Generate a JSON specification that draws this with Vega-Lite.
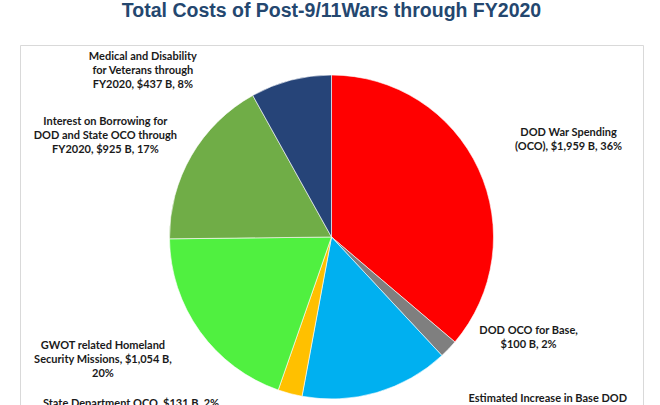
{
  "$schema": "https://vega.github.io/schema/vega-lite/v6.json",
  "width": 623,
  "height": 384,
  "autosize": {"type": "none"},
  "padding": {"left": 20, "top": 45, "right": 17, "bottom": 0},
  "background": "white",
  "view": {"stroke": "#D9D9D9", "strokeWidth": 1},
  "config": {"view": {"stroke": "#D9D9D9", "strokeWidth": 1}},
  "title": {
    "text": "Total Costs of Post-9/11Wars through FY2020",
    "font": "Liberation Sans",
    "fontSize": 19.5,
    "fontWeight": "bold",
    "color": "#24476F",
    "anchor": "middle",
    "offset": 17
  },
  "data": {
    "values": [
      {"idx": 1, "cat": "DOD War Spending (OCO)", "value": 1959, "label": "DOD War Spending\n(OCO),  $1,959 B, 36%"},
      {"idx": 2, "cat": "DOD OCO for Base", "value": 100, "label": "DOD OCO for Base,\n$100 B, 2%"},
      {"idx": 3, "cat": "Estimated Increase in Base DOD Spending", "value": 803, "label": "Estimated Increase in Base DOD\nSpending,  $803 B, 15%"},
      {"idx": 4, "cat": "State Department OCO", "value": 131, "label": "State Department OCO,  $131 B, 2%"},
      {"idx": 5, "cat": "GWOT related Homeland Security Missions", "value": 1054, "label": "GWOT related Homeland\nSecurity Missions,  $1,054 B,\n20%"},
      {"idx": 6, "cat": "Interest on Borrowing for DOD and State OCO through FY2020", "value": 925, "label": "Interest on Borrowing for\nDOD and State OCO through\nFY2020,  $925 B, 17%"},
      {"idx": 7, "cat": "Medical and Disability for Veterans through FY2020", "value": 437, "label": "Medical and Disability\nfor Veterans through\nFY2020,  $437 B, 8%"}
    ]
  },
  "encoding": {
    "theta": {"field": "value", "type": "quantitative", "stack": true},
    "order": {"field": "idx", "type": "quantitative"}
  },
  "layer": [
    {
      "mark": {"type": "arc", "radius": 162, "stroke": "white", "strokeWidth": 0.6},
      "encoding": {
        "color": {
          "field": "cat",
          "type": "nominal",
          "legend": null,
          "scale": {
            "domain": ["DOD War Spending (OCO)", "DOD OCO for Base", "Estimated Increase in Base DOD Spending", "State Department OCO", "GWOT related Homeland Security Missions", "Interest on Borrowing for DOD and State OCO through FY2020", "Medical and Disability for Veterans through FY2020"],
            "range": ["#FF0000", "#7F7F7F", "#00B0F0", "#FFC000", "#50F040", "#70AD47", "#264478"]
          }
        }
      }
    },
    {
      "mark": {"type": "text", "radius": 162, "dx": 90, "dy": -36, "font": "Lato", "fontSize": 11, "fontWeight": "bold", "lineBreak": "\n", "lineHeight": 14, "align": "center", "baseline": "middle", "color": "#1A1A1A"},
      "encoding": {"detail": {"field": "cat"}, "text": {"condition": {"test": "datum.idx === 1", "field": "label", "type": "nominal"}, "value": ""}}
    },
    {
      "mark": {"type": "text", "radius": 162, "dx": 80, "dy": -18, "font": "Lato", "fontSize": 11, "fontWeight": "bold", "lineBreak": "\n", "lineHeight": 14, "align": "center", "baseline": "middle", "color": "#1A1A1A"},
      "encoding": {"detail": {"field": "cat"}, "text": {"condition": {"test": "datum.idx === 2", "field": "label", "type": "nominal"}, "value": ""}}
    },
    {
      "mark": {"type": "text", "radius": 162, "dx": 171, "dy": 6, "font": "Lato", "fontSize": 11, "fontWeight": "bold", "lineBreak": "\n", "lineHeight": 14, "align": "center", "baseline": "middle", "color": "#1A1A1A"},
      "encoding": {"detail": {"field": "cat"}, "text": {"condition": {"test": "datum.idx === 3", "field": "label", "type": "nominal"}, "value": ""}}
    },
    {
      "mark": {"type": "text", "radius": 162, "dx": -159, "dy": 10, "font": "Lato", "fontSize": 11, "fontWeight": "bold", "lineBreak": "\n", "lineHeight": 14, "align": "center", "baseline": "middle", "color": "#1A1A1A"},
      "encoding": {"detail": {"field": "cat"}, "text": {"condition": {"test": "datum.idx === 4", "field": "label", "type": "nominal"}, "value": ""}}
    },
    {
      "mark": {"type": "text", "radius": 162, "dx": -97, "dy": 14, "font": "Lato", "fontSize": 11, "fontWeight": "bold", "lineBreak": "\n", "lineHeight": 14, "align": "center", "baseline": "middle", "color": "#1A1A1A"},
      "encoding": {"detail": {"field": "cat"}, "text": {"condition": {"test": "datum.idx === 5", "field": "label", "type": "nominal"}, "value": ""}}
    },
    {
      "mark": {"type": "text", "radius": 162, "dx": -86, "dy": -34, "font": "Lato", "fontSize": 11, "fontWeight": "bold", "lineBreak": "\n", "lineHeight": 14, "align": "center", "baseline": "middle", "color": "#1A1A1A"},
      "encoding": {"detail": {"field": "cat"}, "text": {"condition": {"test": "datum.idx === 6", "field": "label", "type": "nominal"}, "value": ""}}
    },
    {
      "mark": {"type": "text", "radius": 162, "dx": -148, "dy": -23, "font": "Lato", "fontSize": 11, "fontWeight": "bold", "lineBreak": "\n", "lineHeight": 14, "align": "center", "baseline": "middle", "color": "#1A1A1A"},
      "encoding": {"detail": {"field": "cat"}, "text": {"condition": {"test": "datum.idx === 7", "field": "label", "type": "nominal"}, "value": ""}}
    }
  ]
}
